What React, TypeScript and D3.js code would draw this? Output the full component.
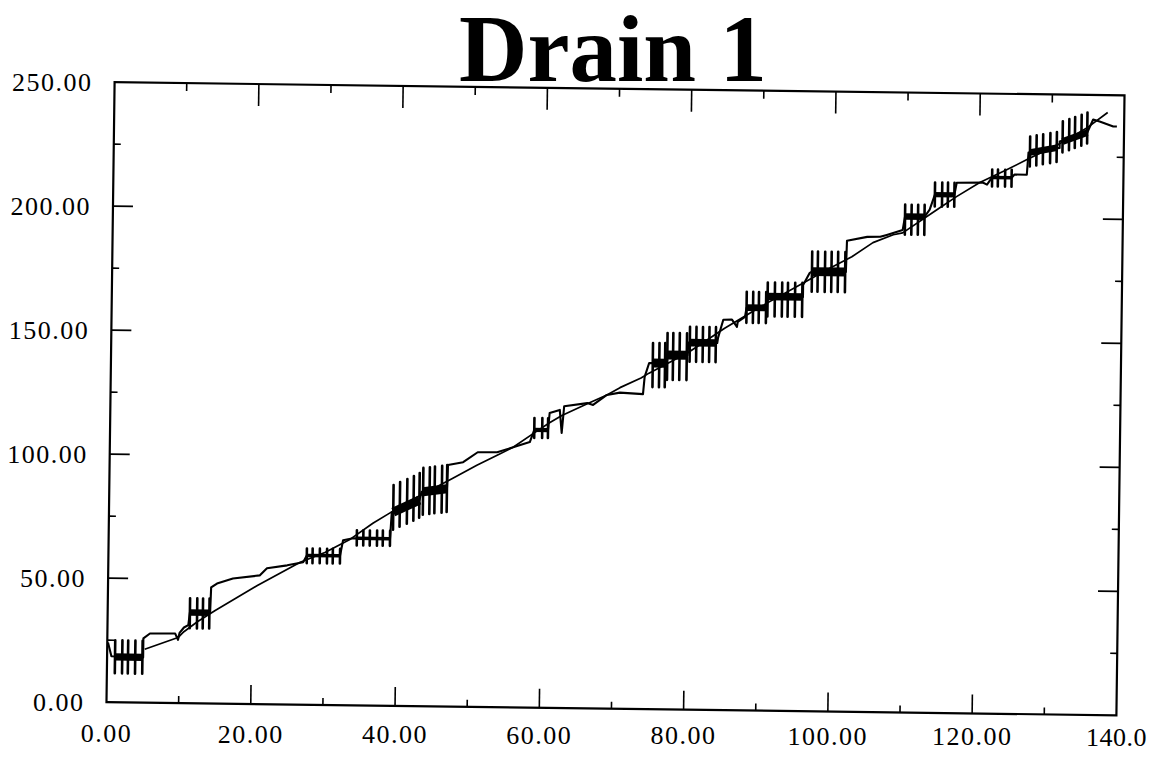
import React from 'react';
import * as d3 from 'd3';

// ---------- data ----------
const titleText = 'Drain 1';
const xDomain: [number, number] = [0, 140];
const yDomain: [number, number] = [0, 250];
const xMajorTicks = [0, 20, 40, 60, 80, 100, 120, 140];
const xMinorTicks = [10, 30, 50, 70, 90, 110, 130];
const yMajorTicks = [0, 50, 100, 150, 200, 250];
const yMinorTicks = [25, 75, 125, 175, 225];
const xTickLabels = ['0.00', '20.00', '40.00', '60.00', '80.00', '100.00', '120.00', '140.0'];
const yTickLabels = ['0.00', '50.00', '100.00', '150.00', '200.00', '250.00'];

// measured (stepped) series
const stepX = [0.1, 0.6, 5.0, 5.0, 5.9, 9.4, 9.8, 10.0, 10.6, 11.2, 11.4, 14.2, 14.3, 15.1, 17.3, 21.0, 22.0, 24.8, 27.0,
  27.5, 32.1, 32.5, 33.9, 39.0, 39.2, 43.0, 43.3, 46.8, 46.9, 49.0, 51.0, 53.7, 55.9, 58.2, 58.8, 60.7, 60.9, 62.3,
  62.6, 62.9, 66.1, 66.9, 68.8, 70.6, 73.8, 74.0, 74.6, 76.9, 77.0, 79.9, 80.0, 84.0, 84.1, 84.4, 84.8, 86.0, 86.7,
  86.8, 87.8, 88.0, 90.8, 90.9, 95.8, 95.8, 96.7, 97.0, 101.7, 101.8, 104.6, 106.4, 107.3, 109.5, 109.8, 112.5, 113.2,
  113.9, 116.6, 116.9, 120.5, 121.1, 121.8, 124.5, 124.9, 126.6, 126.8, 131.1, 131.1, 134.9, 135.7, 136.6, 138.5, 139.0];
const stepY = [24.0, 18.5, 18.2, 25.9, 27.9, 28.0, 25.5, 28.3, 30.5, 31.5, 36.6, 36.6, 46.8, 48.4, 50.5, 51.9, 54.8, 56.1, 57.4,
  60.2, 60.2, 66.5, 67.4, 67.4, 78.1, 83.1, 86.5, 87.8, 97.4, 98.6, 102.7, 102.8, 104.9, 107.1, 112.0, 112.0, 118.9, 120.2,
  110.9, 121.7, 123.1, 122.4, 126.5, 127.5, 127.0, 134.0, 139.6, 139.6, 142.9, 142.9, 148.0, 148.0, 150.1, 153.3, 157.4, 157.5, 154.6,
  156.6, 158.7, 162.4, 162.4, 167.0, 167.0, 171.9, 176.8, 177.3, 177.3, 189.9, 191.6, 191.7, 192.5, 194.6, 200.0, 200.0, 202.9,
  209.0, 209.0, 213.9, 214.1, 213.3, 216.2, 216.2, 217.5, 217.5, 226.5, 228.5, 231.1, 234.8, 240.1, 239.3, 237.4, 237.4];

// reference (near-straight) series
const trendX = [5.2, 9.8, 10.6, 12.5, 14.9, 20.7, 26.6, 30.0, 33.5, 36.6, 38.9, 42.5, 45.0, 47.6, 50.9, 53.7, 55.9, 58.8,
  60.9, 62.6, 66.1, 68.8, 70.6, 73.5, 74.6, 80.0, 85.0, 90.0, 96.0, 99.0, 102.5, 105.4, 108.2, 109.5, 114.2, 116.9, 120.1,
  123.8, 126.6, 131.0, 135.0, 137.7];
const trendY = [21.5, 26.4, 28.8, 33.0, 37.5, 47.8, 57.4, 61.5, 67.0, 73.5, 77.7, 84.0, 88.0, 92.1, 97.5, 101.6, 104.9, 110.8,
  115.0, 118.0, 122.8, 126.5, 129.5, 133.5, 135.5, 144.0, 154.0, 163.0, 173.0, 178.0, 183.5, 189.3, 192.6, 193.4, 202.9, 208.3, 214.1,
  219.4, 223.6, 230.0, 237.0, 243.0];

// oscillation bursts on the measured series: tooth positions, low / high extremes, centre level at start / end
const combTeeth: number[][] = [
  [1.1, 2.1, 2.9, 3.9, 4.9],
  [11.4, 12.4, 13.2, 14.1],
  [27.5, 28.3, 29.3, 30.3, 31.1, 32.1],
  [34.4, 35.3, 36.2, 37.2, 38.0, 39.0],
  [39.4, 40.3, 41.3, 42.2, 43.0],
  [43.5, 44.4, 45.1, 46.1, 46.8],
  [58.8, 59.9, 60.7],
  [75.1, 76.0, 76.8],
  [77.1, 77.9, 78.8, 79.8],
  [80.2, 81.1, 82.0, 82.9, 83.8],
  [88.0, 88.9, 89.7, 90.7],
  [90.9, 91.9, 92.9, 93.7, 94.7, 95.7],
  [97.0, 97.8, 98.8, 99.7, 100.6, 101.6],
  [109.8, 110.7, 111.6, 112.5],
  [113.9, 114.9, 115.7, 116.6],
  [121.8, 122.6, 123.6, 124.5],
  [127.0, 127.9, 128.8, 129.8, 130.7],
  [131.5, 132.4, 133.2, 134.1, 134.9],
];
const combLo = [11.7, 30.2, 57.1, 64.5, 71.0, 77.2, 108.8, 129.9, 132.9, 140.3, 156.3, 159.0, 169.2, 192.7, 204.2, 212.6, 220.8, 226.7];
const combHi = [25.0, 42.3, 63.0, 70.6, 89.0, 96.1, 116.8, 147.7, 151.8, 154.4, 168.8, 172.7, 185.4, 204.8, 213.9, 219.4, 232.9, 239.2];
const combMid0 = [18.3, 36.6, 60.2, 67.4, 78.1, 86.5, 112.0, 139.6, 142.9, 148.0, 162.4, 167.0, 177.3, 200.0, 209.0, 216.2, 226.5, 231.1];
const combMid1 = [18.2, 36.6, 60.2, 67.4, 83.1, 87.8, 112.0, 139.6, 142.9, 148.0, 162.4, 167.0, 177.3, 200.0, 209.0, 216.2, 228.5, 234.8];

// ---------- layout ----------
const W = 1150;
const H = 759;
const L = 110.5;
const R = 1120.5;
const T = 88.75;
const B = 708.75;
const CX = (L + R) / 2;
const CY = (T + B) / 2;
const ANG = 0.75;
const labelFont = "'Liberation Serif', 'Times New Roman', serif";

export default function App() {
  const x = d3.scaleLinear().domain(xDomain).range([L, R]);
  const y = d3.scaleLinear().domain(yDomain).range([B, T]);
  const line = d3.line<[number, number]>().x(d => x(d[0])).y(d => y(d[1]));
  const stepPts: [number, number][] = stepX.map((v, i) => [v, stepY[i]]);
  const trendPts: [number, number][] = trendX.map((v, i) => [v, trendY[i]]);

  const rad = (ANG * Math.PI) / 180;
  const rot = (px: number, py: number): [number, number] => {
    const dx = px - CX;
    const dy = py - CY;
    return [CX + dx * Math.cos(rad) - dy * Math.sin(rad), CY + dx * Math.sin(rad) + dy * Math.cos(rad)];
  };

  const tickStroke = { stroke: '#000', strokeWidth: 1.6 };

  return (
    <svg width={W} height={H} style={{ position: 'absolute', left: 0, top: 0, background: '#fff' }}>
      <rect x={0} y={0} width={W} height={H} fill="#fff" />
      <text x={613} y={81} textAnchor="middle" fontFamily={labelFont} fontWeight="bold" fontSize={96}
        textLength={308} lengthAdjust="spacingAndGlyphs">{titleText}</text>

      <g transform={`rotate(${ANG} ${CX} ${CY})`}>
        <rect x={L} y={T} width={R - L} height={B - T} fill="none" stroke="#000" strokeWidth={2.2} />
        {xMajorTicks.slice(1, -1).map(v => (
          <g key={'xm' + v}>
            <line x1={x(v)} x2={x(v)} y1={B} y2={B - 19} {...tickStroke} />
            <line x1={x(v)} x2={x(v)} y1={T} y2={T + 22} {...tickStroke} />
          </g>
        ))}
        {xMinorTicks.map(v => (
          <g key={'xn' + v}>
            <line x1={x(v)} x2={x(v)} y1={B} y2={B - 7} {...tickStroke} />
            <line x1={x(v)} x2={x(v)} y1={T} y2={T + 8} {...tickStroke} />
          </g>
        ))}
        {yMajorTicks.slice(1, -1).map(v => (
          <g key={'ym' + v}>
            <line x1={L} x2={L + 20} y1={y(v)} y2={y(v)} {...tickStroke} />
            <line x1={R} x2={R - 20} y1={y(v)} y2={y(v)} {...tickStroke} />
          </g>
        ))}
        {yMinorTicks.map(v => (
          <g key={'yn' + v}>
            <line x1={L} x2={L + 7} y1={y(v)} y2={y(v)} {...tickStroke} />
            <line x1={R} x2={R - 7} y1={y(v)} y2={y(v)} {...tickStroke} />
          </g>
        ))}

        <path d={line(trendPts) || ''} fill="none" stroke="#000" strokeWidth={1.7} strokeLinejoin="round" />
        <path d={line(stepPts) || ''} fill="none" stroke="#000" strokeWidth={2.1} strokeLinejoin="round" />

        {combTeeth.map((teeth, i) => {
          const amp = Math.abs(y(combLo[i]) - y(combHi[i]));
          const blob = Math.max(3.5, Math.min(9, amp * 0.22));
          const n = teeth.length;
          return (
            <g key={'c' + i}>
              <line x1={x(teeth[0])} x2={x(teeth[n - 1])} y1={y(combMid0[i])} y2={y(combMid1[i])}
                stroke="#000" strokeWidth={blob} strokeLinecap="butt" />
              {teeth.map((t, j) => {
                const shift = n > 1 ? (combMid1[i] - combMid0[i]) * (j / (n - 1)) : 0;
                return (
                  <line key={j} x1={x(t)} x2={x(t)} y1={y(combLo[i] + shift)} y2={y(combHi[i] + shift)}
                    stroke="#000" strokeWidth={2.6} strokeLinecap="round" />
                );
              })}
            </g>
          );
        })}
      </g>

      {yMajorTicks.map((v, i) => {
        const [px, py] = rot(L - 22, y(v));
        return (
          <text key={'yl' + v} x={px} y={py} dy="0.35em" textAnchor="end" fontFamily={labelFont}
            fontSize={26} letterSpacing={1.5}>{yTickLabels[i]}</text>
        );
      })}
      {xMajorTicks.map((v, i) => {
        const last = i === xMajorTicks.length - 1;
        const [px] = rot(x(v), B);
        const py = 742 + ((px - 106) / 1010) * 4;
        return (
          <text key={'xl' + v} x={last ? 1147 : px} y={py} textAnchor={last ? 'end' : 'middle'} fontFamily={labelFont}
            fontSize={26} letterSpacing={last ? 0.5 : 1.5}>{xTickLabels[i]}</text>
        );
      })}
    </svg>
  );
}
